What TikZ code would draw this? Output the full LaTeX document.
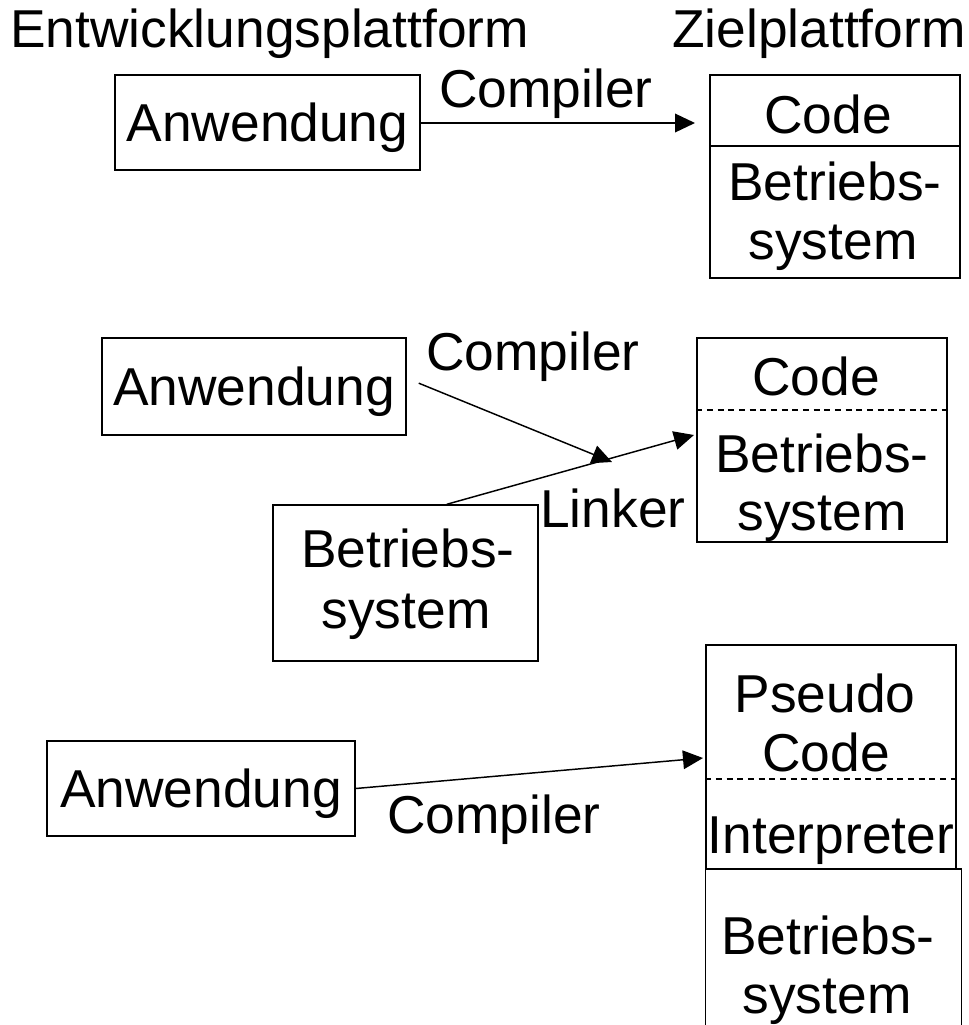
\documentclass[tikz,border=0pt]{standalone}
\usepackage{fontspec}
\setmainfont{Liberation Sans}
\usepackage{tikz}
\usetikzlibrary{arrows.meta}

\tikzset{
  every node/.style={font=\fontsize{40}{45}\selectfont, inner sep=0pt},
  box/.style={draw, line width=1.1pt, text depth=0pt},
  zeile/.style={anchor=base},
  trenn/.style={line width=0.8pt, dash pattern=on 4.5pt off 3.5pt},
  pfeil/.style={line width=1.1pt, -{Triangle[length=15pt,width=14pt]}}
}

\begin{document}
\begin{tikzpicture}[x=0.75pt,y=0.75pt,yscale=-1,xscale=1]
\clip (0,0) rectangle (969,1025);
\fill[white] (0,0) rectangle (969,1025);

% Text Node
\draw (10,47) node [anchor=base west] (entw) {Entwicklungsplattform};
% Text Node
\draw (672,47) node [anchor=base west] (ziel) {Zielplattform};

%%% Compiler
\draw (267.5,122.5) node [box, minimum width=228.75pt, minimum height=71.25pt] (anw1) {Anwendung};
\draw (835,110.5) node [box, minimum width=187.5pt, minimum height=53.25pt] (code1) {};
\draw (835,212) node [box, minimum width=187.5pt, minimum height=99pt] (bs1) {};
% Text Node
\draw (828,133) node [zeile] (code1t) {Code};
\draw (835,200) node [zeile] (bs1a) {Betriebs-};
\draw (833,259) node [zeile] (bs1b) {system};
\draw (546,107) node [zeile] (comp1) {Compiler};
%Straight Lines
\coordinate (tip1) at (695,123);
\draw [pfeil] (anw1.east |- tip1) -- (tip1);

%%% Compiler + Linker
\draw (254,386.5) node [box, minimum width=228pt, minimum height=72.75pt] (anw2) {Anwendung};
\draw (822,440) node [box, minimum width=187.5pt, minimum height=153pt] (ziel2) {};
\draw [trenn] (ziel2.west |- 0,410) -- (ziel2.east |- 0,410);
\draw (405.5,583) node [box, minimum width=198.75pt, minimum height=117pt] (bs3) {};
% Text Node
\draw (816,395) node [zeile] (code2) {Code};
\draw (822,472) node [zeile] (bs2a) {Betriebs-};
\draw (822,530) node [zeile] (bs2b) {system};
\draw (408,567) node [zeile] (bs3a) {Betriebs-};
\draw (406,628) node [zeile] (bs3b) {system};
\draw (533,370) node [zeile] (comp2) {Compiler};
\draw (540,527) node [anchor=base west] (link) {Linker};
%Straight Lines
\coordinate (tip2) at (612,462);
\coordinate (tip3) at (694,435);
\draw [pfeil] ([xshift=9pt,yshift=-2.5pt]anw2.east) -- (tip2);
\draw [pfeil] ([xshift=31pt]bs3.north) -- (tip3);

%%% Pseudo Code + Interpreter
\draw (201,788.5) node [box, minimum width=231pt, minimum height=71.25pt] (anw4) {Anwendung};
\draw (831,757) node [box, minimum width=187.5pt, minimum height=168pt] (ziel4) {};
\draw [trenn] (ziel4.west |- 0,779) -- (ziel4.east |- 0,779);
\draw (833.5,960) node [box, minimum width=192pt, minimum height=136.5pt] (bs5) {};
% Text Node
\draw (825,712) node [zeile] (pseudo) {Pseudo};
\draw (826,771) node [zeile] (code4) {Code};
\draw (831,853) node [zeile] (interp) {Interpreter};
\draw (828,954) node [zeile] (bs5a) {Betriebs-};
\draw (827,1013) node [zeile] (bs5b) {system};
\draw (494,833) node [zeile] (comp3) {Compiler};
%Straight Lines
\coordinate (tip4) at (703,758);
\draw [pfeil] (anw4.east) -- (tip4);

\end{tikzpicture}
\end{document}
